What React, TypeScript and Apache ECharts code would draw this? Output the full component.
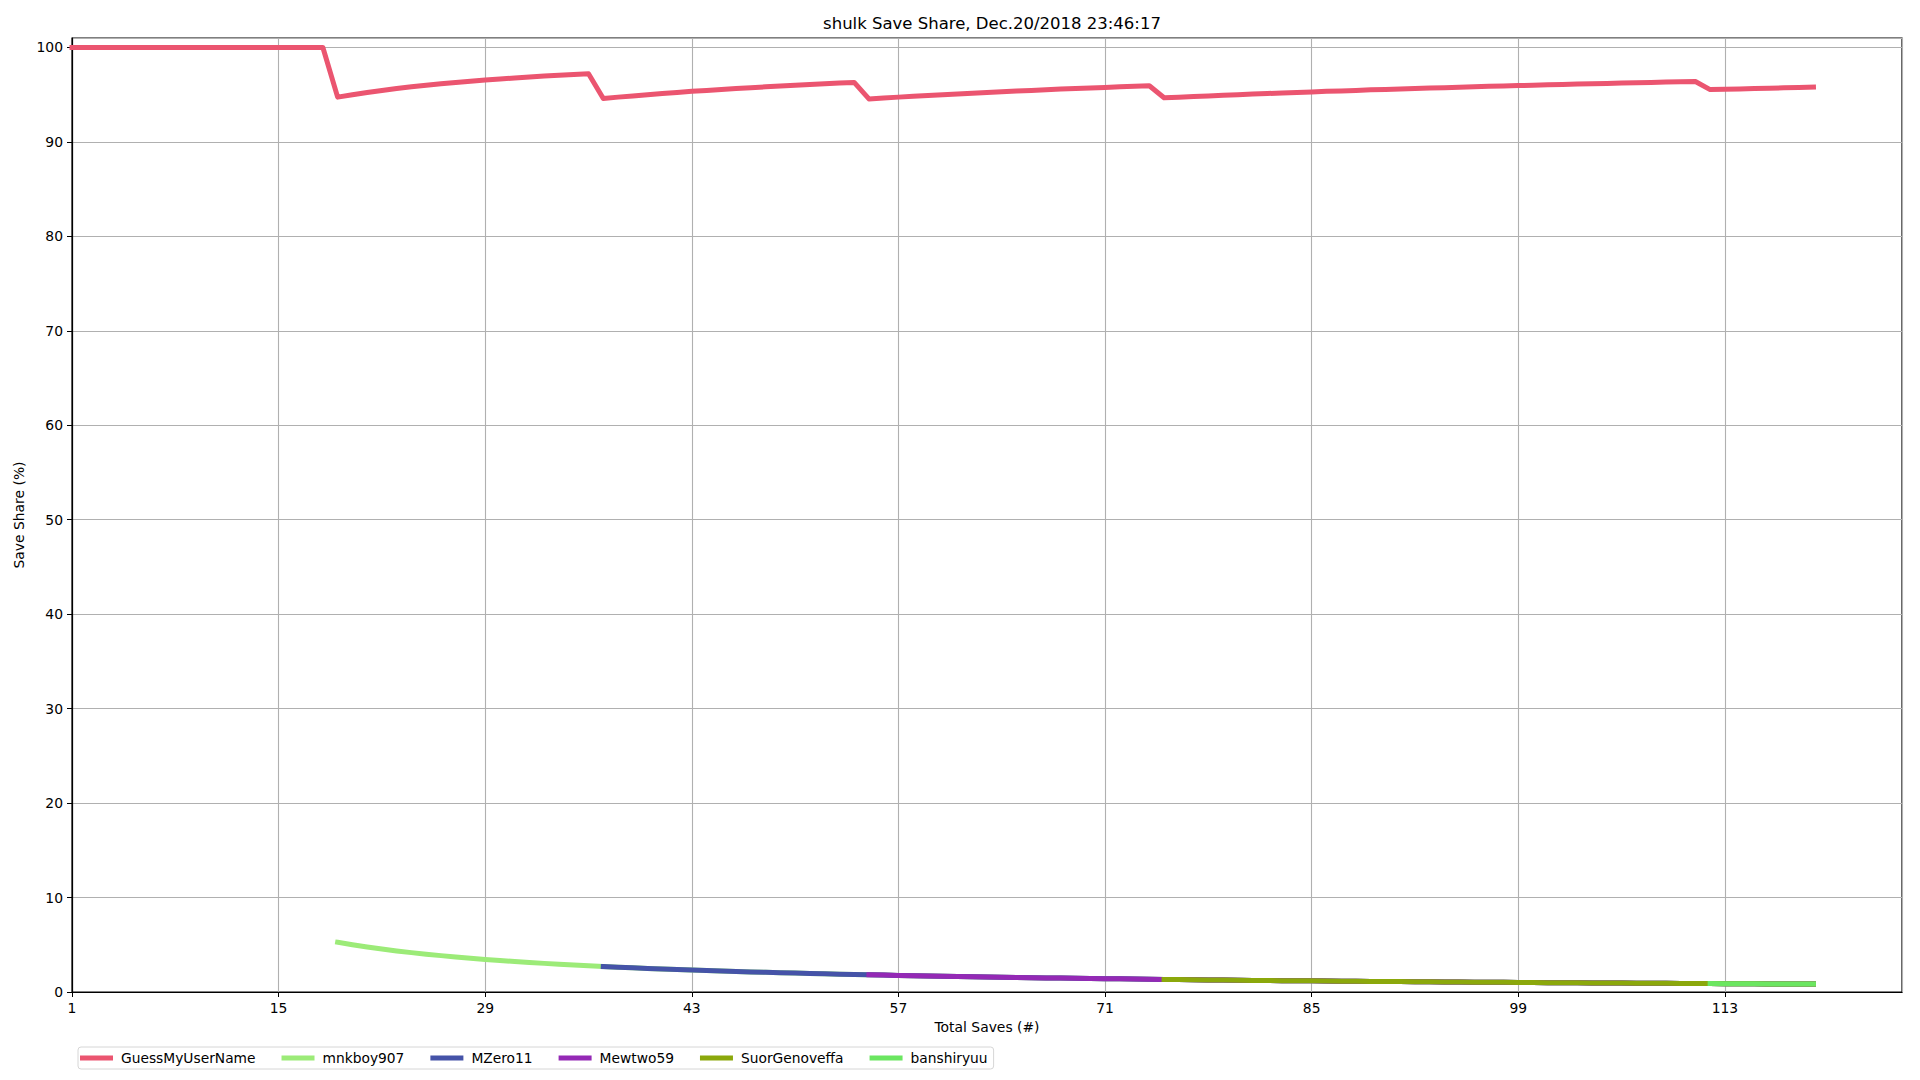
import React, { useEffect, useRef } from "react";
import * as echarts from "echarts";

const TITLE = "shulk Save Share, Dec.20/2018 23:46:17";
const X_NAME = "Total Saves (#)";
const Y_NAME = "Save Share (%)";
const FIRST_SAVE = 1;
const LAST_SAVE_AXIS = 125;

// GuessMyUserName share (%) at total saves 1..119
const guessMyUserName = [
  100, 100, 100, 100, 100, 100, 100, 100, 100, 100,
  100, 100, 100, 100, 100, 100, 100, 100,
  94.74, 95.0, 95.24, 95.45, 95.65, 95.83, 96.0, 96.15, 96.3, 96.43,
  96.55, 96.67, 96.77, 96.88, 96.97, 97.06, 97.14, 97.22,
  94.59, 94.74, 94.87, 95.0, 95.12, 95.24, 95.35, 95.45, 95.56, 95.65,
  95.74, 95.83, 95.92, 96.0, 96.08, 96.15, 96.23, 96.3,
  94.55, 94.64, 94.74, 94.83, 94.92, 95.0, 95.08, 95.16, 95.24, 95.31,
  95.38, 95.45, 95.52, 95.59, 95.65, 95.71, 95.77, 95.83, 95.89, 95.95,
  94.67, 94.74, 94.81, 94.87, 94.94, 95.0, 95.06, 95.12, 95.18, 95.24,
  95.29, 95.35, 95.4, 95.45, 95.51, 95.56, 95.6, 95.65, 95.7, 95.74,
  95.79, 95.83, 95.88, 95.92, 95.96, 96.0, 96.04, 96.08, 96.12, 96.15,
  96.19, 96.23, 96.26, 96.3, 96.33, 96.36, 96.4,
  95.54, 95.58, 95.61, 95.65, 95.69, 95.73, 95.76, 95.8,
];

// share (%) of a user holding a single save, at total saves 19..119
const SINGLE_SHARE_START = 19;
const singleSaveShare = [
  5.26, 5.0, 4.76, 4.55, 4.35, 4.17, 4.0, 3.85, 3.7, 3.57,
  3.45, 3.33, 3.23, 3.13, 3.03, 2.94, 2.86, 2.78, 2.7, 2.63,
  2.56, 2.5, 2.44, 2.38, 2.33, 2.27, 2.22, 2.17, 2.13, 2.08,
  2.04, 2.0, 1.96, 1.92, 1.89, 1.85, 1.82, 1.79, 1.75, 1.72,
  1.69, 1.67, 1.64, 1.61, 1.59, 1.56, 1.54, 1.52, 1.49, 1.47,
  1.45, 1.43, 1.41, 1.39, 1.37, 1.35, 1.33, 1.32, 1.3, 1.28,
  1.27, 1.25, 1.23, 1.22, 1.2, 1.19, 1.18, 1.16, 1.15, 1.14,
  1.12, 1.11, 1.1, 1.09, 1.08, 1.06, 1.05, 1.04, 1.03, 1.02,
  1.01, 1.0, 0.99, 0.98, 0.97, 0.96, 0.95, 0.94, 0.93, 0.93,
  0.92, 0.91, 0.9, 0.89, 0.88, 0.88, 0.87, 0.86, 0.85, 0.85,
  0.84,
];

const users = ["GuessMyUserName", "mnkboy907", "MZero11", "Mewtwo59", "SuorGenoveffa", "banshiryuu"];
const userFirstSave = [1, 19, 37, 55, 75, 112];
const userColors = ["#eb5570", "#9ceb78", "#4553a8", "#9429b5", "#8ba80b", "#6be660"];

const FONT = "DejaVu Sans";

export default function App() {
  const ref = useRef<HTMLDivElement>(null);
  useEffect(() => {
    if (!ref.current) return;
    const chart = echarts.init(ref.current, undefined, { renderer: "svg" });

    const series: any[] = users.map((name, idx) => {
      let data: number[][];
      if (idx === 0) {
        data = guessMyUserName.map((v, i) => [FIRST_SAVE + i, v]);
      } else {
        const off = userFirstSave[idx] - SINGLE_SHARE_START;
        data = singleSaveShare.slice(off).map((v, i) => [userFirstSave[idx] + i, v]);
      }
      return {
        name,
        type: "line",
        data,
        showSymbol: false,
        symbol: "none",
        clip: true,
        lineStyle: { color: userColors[idx], width: 5, cap: "square", join: "round" },
        itemStyle: { color: userColors[idx] },
      };
    });

    chart.setOption({
      animation: false,
      backgroundColor: "#ffffff",
      textStyle: { fontFamily: FONT },
      title: {
        text: TITLE,
        left: 987,
        textAlign: "center",
        top: 10,
        textStyle: { fontFamily: FONT, fontSize: 16.5, fontWeight: "normal", color: "#000" },
      },
      grid: {
        left: 72,
        right: 18,
        top: 38,
        bottom: 88,
        show: true,
        borderColor: "#000",
        borderWidth: 1.2,
        containLabel: false,
      },
      legend: {
        left: 78,
        top: 1047,
        orient: "horizontal",
        icon: "rect",
        itemWidth: 33,
        itemHeight: 5,
        itemGap: 26,
        padding: [4, 6, 4, 2],
        borderColor: "#d6d6d6",
        borderWidth: 1,
        borderRadius: 3,
        textStyle: { fontFamily: FONT, fontSize: 13.8, color: "#000", padding: [0, 0, 0, 3] },
        data: users,
      },
      xAxis: {
        type: "value",
        min: FIRST_SAVE,
        max: LAST_SAVE_AXIS,
        interval: 14,
        name: X_NAME,
        nameLocation: "middle",
        nameGap: 24,
        nameTextStyle: { fontFamily: FONT, fontSize: 13.9, color: "#000" },
        axisLine: { show: true, lineStyle: { color: "#000", width: 1.2 } },
        axisTick: { show: true, inside: false, length: 5, lineStyle: { color: "#000", width: 1 } },
        axisLabel: {
          fontFamily: FONT,
          fontSize: 13.9,
          color: "#000",
          margin: 9,
          showMaxLabel: false,
        },
        splitLine: { show: true, lineStyle: { color: "#b0b0b0", width: 1.1 } },
      },
      yAxis: {
        type: "value",
        min: 0,
        max: 101,
        interval: 10,
        name: Y_NAME,
        nameLocation: "middle",
        nameRotate: 90,
        nameGap: 43,
        nameTextStyle: { fontFamily: FONT, fontSize: 13.9, color: "#000" },
        axisLine: { show: true, lineStyle: { color: "#000", width: 1.2 } },
        axisTick: { show: true, inside: false, length: 5, lineStyle: { color: "#000", width: 1 } },
        axisLabel: {
          fontFamily: FONT,
          fontSize: 13.9,
          color: "#000",
          margin: 9,
          showMaxLabel: false,
        },
        splitLine: { show: true, lineStyle: { color: "#b0b0b0", width: 1.1 } },
      },
      series,
    });

    return () => chart.dispose();
  }, []);

  return <div ref={ref} style={{ width: 1920, height: 1080, position: "absolute", left: 0, top: 0 }} />;
}
